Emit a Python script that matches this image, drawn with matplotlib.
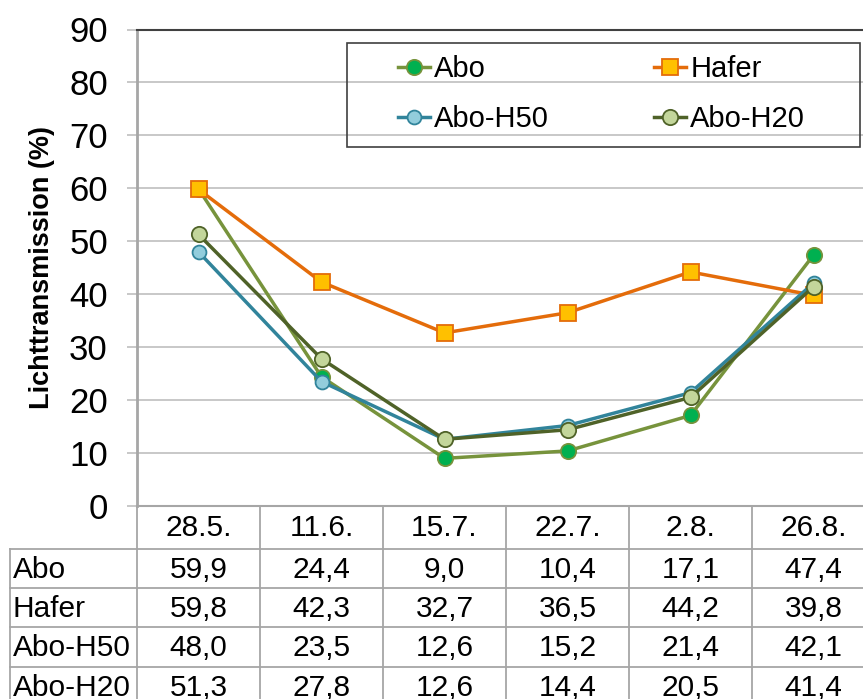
import matplotlib
matplotlib.use("Agg")
import matplotlib.pyplot as plt
from matplotlib.patches import Rectangle

plt.rcParams['font.family'] = ['Liberation Sans', 'DejaVu Sans']

categories = ["28.5.", "11.6.", "15.7.", "22.7.", "2.8.", "26.8."]
abo = [59.9, 24.4, 9.0, 10.4, 17.1, 47.4]
hafer = [59.8, 42.3, 32.7, 36.5, 44.2, 39.8]
abo_h50 = [48.0, 23.5, 12.6, 15.2, 21.4, 42.1]
abo_h20 = [51.3, 27.8, 12.6, 14.4, 20.5, 41.4]
series_names = ["Abo", "Hafer", "Abo-H50", "Abo-H20"]
series_values = [abo, hafer, abo_h50, abo_h20]
yticks = [0, 10, 20, 30, 40, 50, 60, 70, 80, 90]

styles = {
    "Abo": dict(color="#77933C", marker="o", mfc="#00B050", mec="#77933C", ms=11),
    "Hafer": dict(color="#E46C0A", marker="s", mfc="#FFC000", mec="#E46C0A", ms=12),
    "Abo-H50": dict(color="#31849B", marker="o", mfc="#92CDDC", mec="#31849B", ms=10),
    "Abo-H20": dict(color="#4F6228", marker="o", mfc="#C3D69B", mec="#4F6228", ms=11),
}

W, H = 863, 699
fig = plt.figure(figsize=(W / 100, H / 100), dpi=100)

# pixel geometry
x_left, x_right = 137, 875
y_top, y_zero = 29.5, 506
ax = fig.add_axes([x_left / W, 1 - y_zero / H, (x_right - x_left) / W, (y_zero - y_top) / H])
ax.set_xlim(-0.5, len(categories) - 0.5)
ax.set_ylim(0, 90)
ax.set_yticks(yticks)
ax.set_yticklabels([str(v) for v in yticks], fontsize=25)
ax.set_xticks([])
ax.yaxis.grid(True, color="#BFBFBF", lw=1.2)
ax.set_axisbelow(True)
ax.tick_params(axis="y", length=7, width=1.2, color="#BFBFBF", pad=14)
ax.spines["right"].set_visible(False)
ax.spines["top"].set_color("#404040")
ax.spines["top"].set_linewidth(1.5)
ax.spines["left"].set_color("#A6A6A6")
ax.spines["left"].set_linewidth(2)
ax.spines["bottom"].set_color("#A6A6A6")
ax.spines["bottom"].set_linewidth(1.5)
ax.set_ylabel("Lichttransmission (%)", fontsize=19.5, fontweight="bold", labelpad=10)

xs = list(range(len(categories)))
lines = {}
for name, vals in zip(series_names, series_values):
    st = styles[name]
    ln, = ax.plot(xs, vals, color=st["color"], lw=2.5, marker=st["marker"], ms=st["ms"],
                  mfc=st["mfc"], mec=st["mec"], mew=1.3, label=name, clip_on=False, zorder=3)
    lines[name] = ln

# legend (frameless) + separate frame; row-wise order
order = ["Abo", "Abo-H50", "Hafer", "Abo-H20"]
leg = fig.legend([lines[n] for n in order], order, ncol=2, loc="upper left",
                 bbox_to_anchor=(398 / W, 1 - 55 / H), frameon=False, fontsize=21,
                 handlelength=1.1, handletextpad=0.14, columnspacing=3.6,
                 labelspacing=0.75, borderaxespad=0, borderpad=0)
fig.patches.append(Rectangle((347 / W, 1 - 147 / H), (860 - 347) / W, (147 - 43) / H,
                             transform=fig.transFigure, fill=False, edgecolor="#404040", lw=1.2))

# table below
tx_left = 10
tax = fig.add_axes([tx_left / W, 1 - 706 / H, (x_right - tx_left) / W, 200 / H])
cat_w = (x_right - x_left) / len(categories)
xl = -0.5 - (x_left - tx_left) / cat_w
tax.set_xlim(xl, len(categories) - 0.5)
tax.set_ylim(200, 0)
tax.axis("off")
row_b = [0, 43, 82, 121.5, 161, 200]
lc = "#A6A6A6"
for yb in row_b[1:-1]:
    tax.plot([xl, len(categories) - 0.5], [yb, yb], color=lc, lw=1.3, clip_on=False)
for k in range(len(categories) + 1):
    tax.plot([k - 0.5, k - 0.5], [0, 200], color=lc, lw=1.3, clip_on=False)
tax.plot([xl, xl], [43, 200], color=lc, lw=1.3, clip_on=False)
tfs = 21.5
for i, c in enumerate(categories):
    tax.text(i, (row_b[0] + row_b[1]) / 2 + 1, c, ha="center", va="center", fontsize=tfs)
for r, (name, vals) in enumerate(zip(series_names, series_values)):
    yc = (row_b[r + 1] + row_b[r + 2]) / 2 + 1
    tax.text(xl + 0.02, yc, name, ha="left", va="center", fontsize=tfs)
    for i, v in enumerate(vals):
        tax.text(i, yc, f"{v:.1f}".replace(".", ","), ha="center", va="center", fontsize=tfs)

fig.savefig("out.png", dpi=100)
